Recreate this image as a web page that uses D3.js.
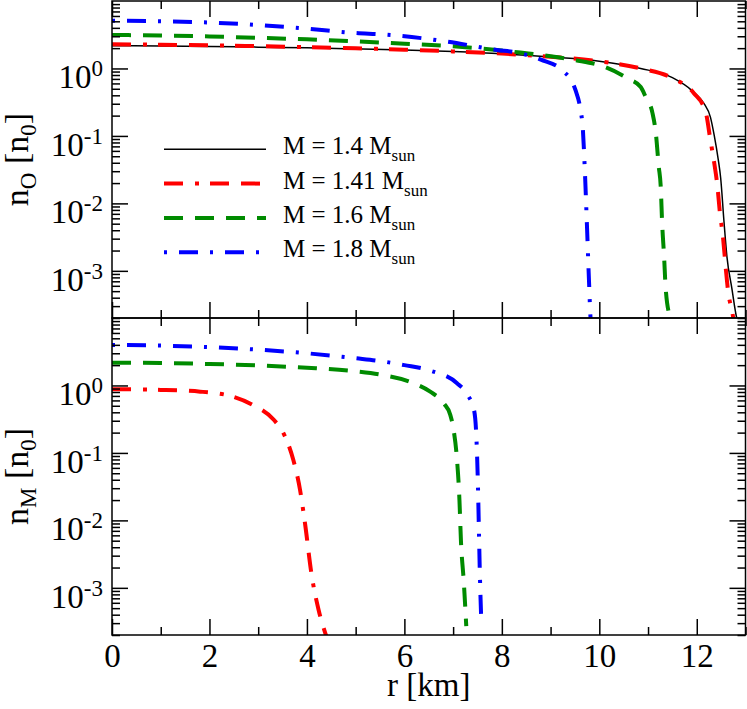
<!DOCTYPE html>
<html><head><meta charset="utf-8">
<script src="https://cdn.jsdelivr.net/npm/d3@7"></script>
<style>
body{margin:0;background:#fff}
svg{display:block}
text{font-family:"Liberation Serif","Times New Roman",serif;fill:#000}
</style>
</head><body>
<svg id="c" width="747" height="709"></svg>
<script>
// ---------------- data ----------------
const seriesLabels = ["1.4", "1.41", "1.6", "1.8"];
const seriesColors = ["#000000", "#ff0000", "#008b00", "#0000ff"];
const seriesDash   = [null, "19,12,4,11,19,12", "19,12", "3,12,19,12"];
const seriesWidth  = [1.5, 4, 4, 4];

// upper panel: n_O [n_0] vs r [km]
const rO_14  = [0, 1, 2, 3, 4, 5, 6, 7, 8, 9, 10, 10.85, 11.5, 11.9, 12.15, 12.28, 12.36, 12.44, 12.49, 12.56, 12.62, 12.72, 12.82, 12.86];
const nO_14  = [2.18, 2.16, 2.12, 2.07, 2.02, 1.95, 1.88, 1.78, 1.65, 1.48, 1.28, 1.0, 0.73, 0.47, 0.30, 0.19, 0.10, 0.045, 0.024, 0.0052, 0.0016, 5.5e-4, 2.0e-4, 1.6e-4];
const rO_141 = [0, 1, 2, 3, 4, 5, 6, 7, 8, 9, 10, 10.85, 11.5, 11.94, 12.18, 12.28, 12.36, 12.42, 12.48, 12.53, 12.6, 12.64, 12.73, 12.78];
const nO_141 = [2.28, 2.25, 2.2, 2.14, 2.07, 1.99, 1.9, 1.79, 1.66, 1.49, 1.28, 1.0, 0.72, 0.43, 0.23, 0.087, 0.039, 0.019, 0.0067, 0.0036, 0.001, 5.2e-4, 2.4e-4, 1.5e-4];
const rO_16  = [0, 1, 2, 3, 4, 5, 6, 7, 8, 8.5, 9, 9.5, 10.1, 10.6, 10.85, 10.95, 11.09, 11.16, 11.22, 11.26, 11.29, 11.33, 11.36, 11.45, 11.5];
const nO_16  = [3.14, 3.08, 2.98, 2.85, 2.7, 2.52, 2.33, 2.13, 1.85, 1.68, 1.52, 1.33, 1.06, 0.70, 0.53, 0.38, 0.22, 0.11, 0.035, 0.018, 0.005, 0.0016, 5.8e-4, 2.0e-4, 1.4e-4];
const rO_18  = [0, 1, 2, 3, 4, 5, 5.56, 6.88, 7.9, 8.3, 8.8, 9.27, 9.51, 9.62, 9.66, 9.70, 9.74, 9.79, 9.82, 9.85];
const nO_18  = [5.1, 5.0, 4.8, 4.4, 3.9, 3.35, 3.2, 2.5, 1.88, 1.72, 1.35, 0.90, 0.48, 0.23, 0.134, 0.035, 0.0063, 6.6e-4, 2.0e-4, 1.4e-4];

// lower panel: n_M [n_0] vs r [km]  (no curve for M = 1.4)
const rM_141 = [0, 1, 1.81, 2.49, 2.9, 3.32, 3.52, 3.72, 3.86, 3.96, 4.1, 4.24, 4.38, 4.45];
const nM_141 = [0.88, 0.86, 0.81, 0.68, 0.51, 0.31, 0.195, 0.079, 0.028, 0.0091, 0.0015, 4.7e-4, 2.1e-4, 1.5e-4];
const rM_16  = [0, 1, 2, 3, 4, 5, 5.5, 6.19, 6.53, 6.81, 6.94, 7.01, 7.08, 7.13, 7.16, 7.22, 7.27];
const nM_16  = [2.18, 2.15, 2.08, 1.98, 1.83, 1.62, 1.45, 1.08, 0.81, 0.54, 0.37, 0.22, 0.079, 0.020, 0.0051, 0.0012, 2.7e-4];
const rM_18  = [0, 1, 2, 3.1, 4, 5, 5.5, 6.0, 6.53, 7.08, 7.3, 7.43, 7.48, 7.51, 7.53, 7.55, 7.58];
const nM_18  = [3.98, 3.9, 3.7, 3.36, 3.0, 2.53, 2.3, 2.0, 1.66, 1.08, 0.72, 0.43, 0.155, 0.032, 0.0068, 0.0015, 3.0e-4];

// ticks
const xMajor = [0, 2, 4, 6, 8, 10, 12];
const xMinor = [1, 3, 5, 7, 9, 11, 13];
const yMajor = [1e-3, 1e-2, 1e-1, 1];
const yMajorExp = ["-3", "-2", "-1", "0"];
const yMinor = [2e-4,3e-4,4e-4,5e-4,6e-4,7e-4,8e-4,9e-4,
                2e-3,3e-3,4e-3,5e-3,6e-3,7e-3,8e-3,9e-3,
                2e-2,3e-2,4e-2,5e-2,6e-2,7e-2,8e-2,9e-2,
                0.2,0.3,0.4,0.5,0.6,0.7,0.8,0.9,
                2,3,4,5,6,7,8,9];

// ---------------- layout ----------------
const svg = d3.select("#c");
const L = 112, R = 745.5;
const panels = [
  {top: 1, bottom: 318, title: "O", data: [[rO_14,nO_14,0],[rO_141,nO_141,1],[rO_16,nO_16,2],[rO_18,nO_18,3]]},
  {top: 318, bottom: 635, title: "M", data: [[rM_141,nM_141,1],[rM_16,nM_16,2],[rM_18,nM_18,3]]}
];
const x = d3.scaleLinear().domain([0, 13]).range([L, R]);

panels.forEach((p, pi) => {
  const y = d3.scaleLog().domain([2e-4, 10]).range([p.bottom, p.top]);
  const clipId = "clip" + pi;
  svg.append("clipPath").attr("id", clipId).append("rect")
    .attr("x", L).attr("y", p.top).attr("width", R - L).attr("height", p.bottom - p.top);

  const line = d3.line().x(d => x(d[0])).y(d => y(d[1])).curve(d3.curveMonotoneX);
  const g = svg.append("g").attr("clip-path", `url(#${clipId})`);
  p.data.forEach(([rs, ns, si]) => {
    g.append("path")
      .attr("d", line(rs.map((r, i) => [r, ns[i]])))
      .attr("fill", "none")
      .attr("stroke", seriesColors[si])
      .attr("stroke-width", seriesWidth[si])
      .attr("stroke-dasharray", seriesDash[si])
      .attr("stroke-linejoin", "round");
  });

  const styleAxis = sel => {
    sel.select(".domain").remove();
    sel.attr("font-family", null);
    sel.selectAll(".tick line").attr("stroke", "#000").attr("stroke-width", 1.5);
  };
  // left / right axes
  const addY = (gen, xpos, withLabels) => {
    const gm = svg.append("g").attr("transform", `translate(${xpos},0)`)
      .call(gen(y).tickValues(yMajor).tickSize(-16).tickFormat("")).call(styleAxis);
    svg.append("g").attr("transform", `translate(${xpos},0)`)
      .call(gen(y).tickValues(yMinor).tickSize(-8).tickFormat("")).call(styleAxis);
    if (withLabels) {
      gm.selectAll(".tick").each(function(d, i) {
        const t = d3.select(this).append("text")
          .attr("x", -9).attr("y", 19.5).attr("text-anchor", "end")
          .attr("font-size", 33);
        t.append("tspan").text("10");
        t.append("tspan").attr("dy", -12).attr("font-size", 23).text(yMajorExp[i]);
      });
    }
  };
  addY(d3.axisLeft, L, true);
  addY(d3.axisRight, R, false);

  // top / bottom axes
  const addX = (gen, ypos, withLabels) => {
    svg.append("g").attr("transform", `translate(0,${ypos})`)
      .call(gen(x).tickValues(xMajor).tickSize(-16).tickPadding(9)
        .tickFormat(withLabels ? d3.format("d") : ""))
      .call(styleAxis)
      .call(s => s.selectAll("text").attr("font-size", 33));
    svg.append("g").attr("transform", `translate(0,${ypos})`)
      .call(gen(x).tickValues(xMinor).tickSize(-8).tickFormat("")).call(styleAxis);
  };
  addX(d3.axisTop, p.top, false);
  addX(d3.axisBottom, p.bottom, pi === 1);

  // frame
  svg.append("rect").attr("x", L).attr("y", p.top).attr("width", R - L).attr("height", p.bottom - p.top)
    .attr("fill", "none").attr("stroke", "#000").attr("stroke-width", 1.5);

  // y title
  const yc = (p.top + p.bottom) / 2;
  const tt = svg.append("text").attr("transform", `translate(28,${yc}) rotate(-90)`)
    .attr("text-anchor", "middle").attr("font-size", 34);
  tt.append("tspan").text("n");
  tt.append("tspan").attr("dy", 8).attr("font-size", 23).text(p.title);
  tt.append("tspan").attr("dy", -8).text(" [n");
  tt.append("tspan").attr("dy", 8).attr("font-size", 23).text("0");
  tt.append("tspan").attr("dy", -8).text("]");

  // legend (upper panel only)
  if (pi === 0) {
    const lg = svg.append("g");
    seriesLabels.forEach((lab, i) => {
      const ly = 149.3 + i * 34.3;
      lg.append("line").attr("x1", 164).attr("x2", 266).attr("y1", ly).attr("y2", ly)
        .attr("stroke", seriesColors[i]).attr("stroke-width", seriesWidth[i])
        .attr("stroke-dasharray", seriesDash[i]);
      const t = lg.append("text").attr("x", 283).attr("y", ly + 5).attr("font-size", 25);
      t.append("tspan").text(`M = ${lab} M`);
      t.append("tspan").attr("dy", 7).attr("font-size", 17).text("sun");
    });
  }
});

// x title
svg.append("text").attr("x", (L + R) / 2).attr("y", 696).attr("text-anchor", "middle")
  .attr("font-size", 33).text("r [km]");
</script>
</body></html>
